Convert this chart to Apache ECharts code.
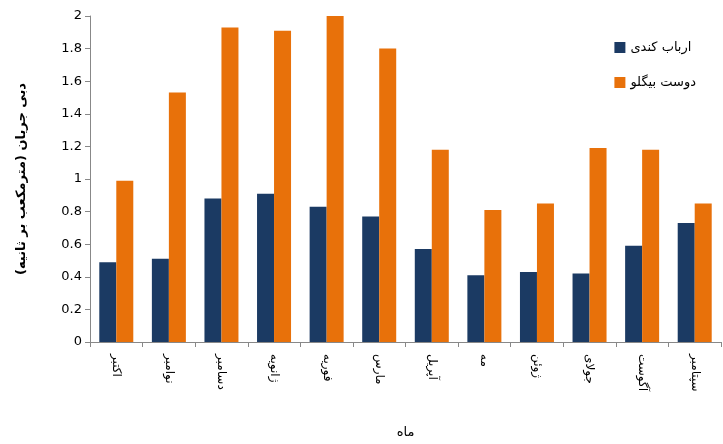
<!DOCTYPE html>
<html>
<head>
<meta charset="UTF-8">
<script src="https://cdn.jsdelivr.net/npm/echarts@6/dist/echarts.min.js"></script>
<style>html,body{margin:0;padding:0;width:100%;height:100%;background:#fff}</style>
</head>
<body>
<div id="chart" style="width:723px;height:444px;"></div>
<script>
var months = ['اکتبر','نوامبر','دسامبر','ژانویه','فوریه','مارس','آپریل','مه','ژوئن','جولای','آگوست','سپتامبر'];
var arbab = [0.49,0.51,0.88,0.91,0.83,0.77,0.57,0.41,0.43,0.42,0.59,0.73];
var doost = [0.99,1.53,1.93,1.91,2.0,1.80,1.18,0.81,0.85,1.19,1.18,0.85];
var font = 'DejaVu Sans';
var chart = echarts.init(document.getElementById('chart'));
chart.setOption({
  textStyle:{fontFamily:font},
  legend:{orient:'vertical',right:22,top:36,itemGap:22,align:'left',itemWidth:11,itemHeight:11,icon:'rect',
    textStyle:{fontSize:13,color:'#000',fontFamily:font}},
  grid:{left:90,right:2,top:16,bottom:98},
  xAxis:{type:'category',data:months,name:'ماه',nameLocation:'middle',nameGap:84,
    nameTextStyle:{fontSize:13,color:'#000'},
    axisLine:{lineStyle:{color:'#888'}},axisTick:{show:true,length:5},
    axisLabel:{rotate:-90,color:'#000',fontSize:12,margin:12,interval:0}},
  yAxis:{type:'value',min:0,max:2,interval:0.2,
    name:'دبی جریان (مترمکعب بر ثانیه)',nameLocation:'middle',nameGap:62,
    nameTextStyle:{fontSize:13,color:'#000',fontWeight:'bold'},
    axisLine:{show:true,lineStyle:{color:'#888'}},axisTick:{show:true},splitLine:{show:false},
    axisLabel:{color:'#000',fontSize:13,formatter:function(v){return +v.toFixed(1)+'';}}},
  series:[
    {name:'ارباب کندی',type:'bar',data:arbab,barWidth:17,barGap:'0%',itemStyle:{color:'#1b3a63'}},
    {name:'دوست بیگلو',type:'bar',data:doost,barWidth:17,itemStyle:{color:'#e8710a'}}
  ]
});
</script>
</body>
</html>
